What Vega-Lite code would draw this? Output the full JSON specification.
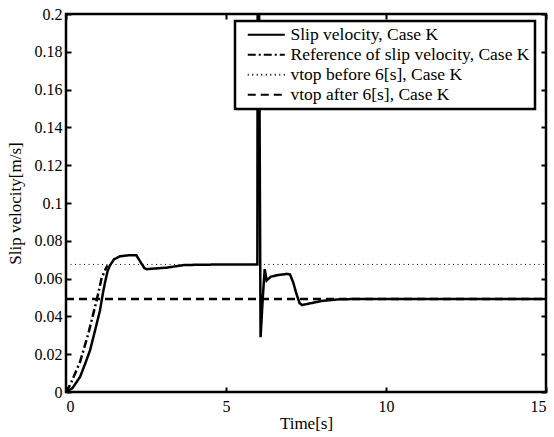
{
  "$schema": "https://vega.github.io/schema/vega-lite/v6.json",
  "width": 480,
  "height": 378,
  "autosize": {"type": "none"},
  "padding": {"left": 66, "top": 14, "right": 8, "bottom": 45},
  "background": "white",
  "config": {
    "font": "Liberation Serif",
    "view": {"stroke": "black", "strokeWidth": 2.5}
  },
  "datasets": {
    "curves": [
      {"s": "Slip velocity, Case K", "t": 0, "v": 0},
      {"s": "Slip velocity, Case K", "t": 0.2, "v": 0.002},
      {"s": "Slip velocity, Case K", "t": 0.44, "v": 0.008},
      {"s": "Slip velocity, Case K", "t": 0.6, "v": 0.015},
      {"s": "Slip velocity, Case K", "t": 0.75, "v": 0.022},
      {"s": "Slip velocity, Case K", "t": 0.9, "v": 0.032},
      {"s": "Slip velocity, Case K", "t": 1.06, "v": 0.043},
      {"s": "Slip velocity, Case K", "t": 1.15, "v": 0.052},
      {"s": "Slip velocity, Case K", "t": 1.22, "v": 0.058},
      {"s": "Slip velocity, Case K", "t": 1.3, "v": 0.064},
      {"s": "Slip velocity, Case K", "t": 1.375, "v": 0.067},
      {"s": "Slip velocity, Case K", "t": 1.5, "v": 0.0702},
      {"s": "Slip velocity, Case K", "t": 1.69, "v": 0.0718},
      {"s": "Slip velocity, Case K", "t": 2.0, "v": 0.0724},
      {"s": "Slip velocity, Case K", "t": 2.2, "v": 0.0723},
      {"s": "Slip velocity, Case K", "t": 2.32, "v": 0.069},
      {"s": "Slip velocity, Case K", "t": 2.45, "v": 0.0655},
      {"s": "Slip velocity, Case K", "t": 2.52, "v": 0.065},
      {"s": "Slip velocity, Case K", "t": 3.15, "v": 0.0658},
      {"s": "Slip velocity, Case K", "t": 3.7, "v": 0.0672},
      {"s": "Slip velocity, Case K", "t": 5.0, "v": 0.0675},
      {"s": "Slip velocity, Case K", "t": 5.98, "v": 0.0675},
      {"s": "Slip velocity, Case K", "t": 5.99, "v": 0.22},
      {"s": "Slip velocity, Case K", "t": 6.03, "v": 0.22},
      {"s": "Slip velocity, Case K", "t": 6.08, "v": 0.029},
      {"s": "Slip velocity, Case K", "t": 6.15, "v": 0.05},
      {"s": "Slip velocity, Case K", "t": 6.21, "v": 0.065},
      {"s": "Slip velocity, Case K", "t": 6.27, "v": 0.059},
      {"s": "Slip velocity, Case K", "t": 6.4, "v": 0.061},
      {"s": "Slip velocity, Case K", "t": 6.6, "v": 0.0618},
      {"s": "Slip velocity, Case K", "t": 6.9, "v": 0.0625},
      {"s": "Slip velocity, Case K", "t": 7.0, "v": 0.0622},
      {"s": "Slip velocity, Case K", "t": 7.1, "v": 0.058},
      {"s": "Slip velocity, Case K", "t": 7.2, "v": 0.052},
      {"s": "Slip velocity, Case K", "t": 7.3, "v": 0.047},
      {"s": "Slip velocity, Case K", "t": 7.38, "v": 0.046},
      {"s": "Slip velocity, Case K", "t": 7.6, "v": 0.0468},
      {"s": "Slip velocity, Case K", "t": 8.0, "v": 0.0482},
      {"s": "Slip velocity, Case K", "t": 8.5, "v": 0.049},
      {"s": "Slip velocity, Case K", "t": 9.0, "v": 0.0492},
      {"s": "Slip velocity, Case K", "t": 15.0, "v": 0.0492},
      {"s": "Reference of slip velocity, Case K", "t": 0, "v": 0},
      {"s": "Reference of slip velocity, Case K", "t": 0.15, "v": 0.0045},
      {"s": "Reference of slip velocity, Case K", "t": 0.44, "v": 0.016},
      {"s": "Reference of slip velocity, Case K", "t": 0.7, "v": 0.031},
      {"s": "Reference of slip velocity, Case K", "t": 0.96, "v": 0.0487},
      {"s": "Reference of slip velocity, Case K", "t": 1.11, "v": 0.06},
      {"s": "Reference of slip velocity, Case K", "t": 1.22, "v": 0.0645},
      {"s": "Reference of slip velocity, Case K", "t": 1.3, "v": 0.067},
      {"s": "vtop before 6[s], Case K", "t": 0, "v": 0.0675},
      {"s": "vtop before 6[s], Case K", "t": 15, "v": 0.0675},
      {"s": "vtop after 6[s], Case K", "t": 0, "v": 0.0492},
      {"s": "vtop after 6[s], Case K", "t": 15, "v": 0.0492}
    ]
  },
  "data": {"name": "curves"},
  "layer": [
    {
      "transform": [{"filter": "datum.s !== 'vtop before 6[s], Case K'"}],
      "mark": {"type": "line", "clip": true, "color": "black", "strokeWidth": 2.5},
      "encoding": {
        "x": {"field": "t", "type": "quantitative", "scale": {"domain": [0, 15], "nice": false},
              "axis": {"values": [0, 5, 10, 15], "format": "~g", "title": "Time[s]", "grid": false, "domain": false,
                       "ticks": true, "tickSize": 5, "tickWidth": 2, "tickColor": "black", "tickOpacity": 1, "offset": -5, "zindex": 2,
                       "labelPadding": 6, "titlePadding": 1,
                       "labelFont": "Liberation Serif", "labelFontSize": 16, "labelColor": "black",
                       "titleFont": "Liberation Serif", "titleFontSize": 17, "titleFontWeight": "normal", "titleColor": "black",
                       "encode": {"ticks": {"update": {"stroke": {"value": "black"}, "strokeOpacity": {"value": 1}}},
                                  "labels": {"update": {"font": {"value": "Liberation Serif"}}}, "title": {"update": {"font": {"value": "Liberation Serif"}}}}}},
        "y": {"field": "v", "type": "quantitative", "scale": {"domain": [0, 0.2], "nice": false},
              "axis": {"values": [0, 0.02, 0.04, 0.06, 0.08, 0.1, 0.12, 0.14, 0.16, 0.18, 0.2], "format": "~g", "title": "Slip velocity[m/s]", "grid": false, "domain": false,
                       "ticks": true, "tickSize": 5, "tickWidth": 2, "tickColor": "black", "tickOpacity": 1, "offset": -5, "zindex": 2,
                       "labelPadding": 4, "titlePadding": 10,
                       "labelFont": "Liberation Serif", "labelFontSize": 16, "labelColor": "black",
                       "titleFont": "Liberation Serif", "titleFontSize": 17, "titleFontWeight": "normal", "titleColor": "black",
                       "encode": {"ticks": {"update": {"stroke": {"value": "black"}, "strokeOpacity": {"value": 1}}},
                                  "labels": {"update": {"font": {"value": "Liberation Serif"}}}, "title": {"update": {"font": {"value": "Liberation Serif"}}}}}},
        "strokeDash": {"field": "s", "type": "nominal",
          "scale": {"domain": ["Slip velocity, Case K", "Reference of slip velocity, Case K", "vtop before 6[s], Case K", "vtop after 6[s], Case K"],
                    "range": [[1, 0], [8, 3, 2, 3], [1, 3.5], [8, 5]]},
          "legend": {"title": null, "orient": "none", "legendX": 169, "legendY": 7,
                     "symbolType": "M-0.2,0H7.2", "symbolStrokeColor": "black", "symbolStrokeWidth": 2, "symbolSize": 100,
                     "labelFont": "Liberation Serif", "labelFontSize": 17.5, "labelColor": "black", "labelLimit": 400,
                     "labelOffset": 33, "rowPadding": 1, "padding": 5,
                     "strokeColor": "black", "fillColor": "white", "cornerRadius": 0,
                     "encode": {"legend": {"update": {"strokeWidth": {"value": 2.5}}}}}}
      }
    },
    {
      "transform": [{"filter": "datum.s === 'vtop before 6[s], Case K'"}],
      "mark": {"type": "line", "clip": true, "color": "black", "strokeWidth": 1},
      "encoding": {
        "x": {"field": "t", "type": "quantitative",
              "axis": {"orient": "top", "values": [0, 5, 10, 15], "labels": false, "title": null, "grid": false, "domain": false,
                       "ticks": true, "tickSize": 5, "tickWidth": 2, "tickColor": "black", "tickOpacity": 1, "offset": -5, "zindex": 2}},
        "y": {"field": "v", "type": "quantitative",
              "axis": {"orient": "right", "values": [0, 0.02, 0.04, 0.06, 0.08, 0.1, 0.12, 0.14, 0.16, 0.18, 0.2], "labels": false, "title": null, "grid": false, "domain": false,
                       "ticks": true, "tickSize": 5, "tickWidth": 2, "tickColor": "black", "tickOpacity": 1, "offset": -5, "zindex": 2}},
        "strokeDash": {"field": "s", "type": "nominal"}
      }
    }
  ],
  "resolve": {"axis": {"x": "independent", "y": "independent"}}
}
